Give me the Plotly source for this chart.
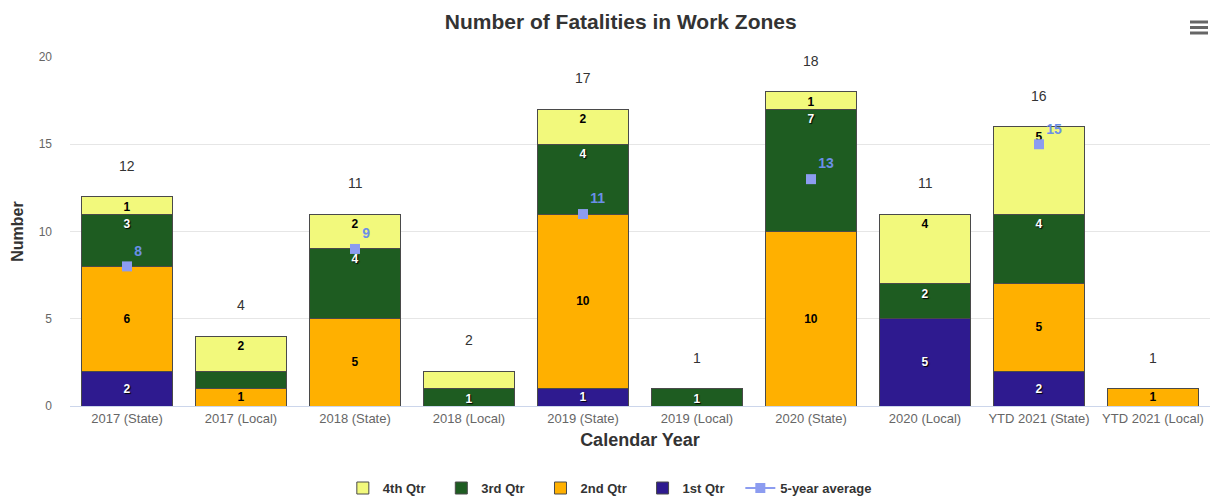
import plotly.graph_objects as go

categories = ['2017 (State)', '2017 (Local)', '2018 (State)', '2018 (Local)', '2019 (State)',
              '2019 (Local)', '2020 (State)', '2020 (Local)', 'YTD 2021 (State)', 'YTD 2021 (Local)']

q1 = [2, 0, 0, 0, 1, 0, 0, 5, 2, 0]
q2 = [6, 1, 5, 0, 10, 0, 10, 0, 5, 1]
q3 = [3, 1, 4, 1, 4, 1, 7, 2, 4, 0]
q4 = [1, 2, 2, 1, 2, 0, 1, 4, 5, 0]
five_year_avg = [8, None, 9, None, 11, None, 13, None, 15, None]

# labels highcharts dropped on these small segments
hidden = {('3rd Qtr', 1), ('4th Qtr', 3)}

# name, values, fill, label colour, label anchor, legend rank
series = [
    ('1st Qtr', q1, '#2e1a8f', 'white', 'middle', 4),
    ('2nd Qtr', q2, '#ffb000', 'black', 'middle', 3),
    ('3rd Qtr', q3, '#1e5c21', 'white', 'end', 2),
    ('4th Qtr', q4, '#f2f97c', 'black', 'end', 1),
]

totals = [a + b + c + d for a, b, c, d in zip(q1, q2, q3, q4)]

FONT = 'Liberation Sans, Arial'
PAD = '\u00a0' * 3  # widen legend entries a bit

fig = go.Figure()
for name, vals, color, txtcolor, anchor, rank in series:
    labels = []
    for i, v in enumerate(vals):
        if v == 0 or (name, i) in hidden:
            labels.append('')
        else:
            labels.append(f'<b>{v}</b>')
    fig.add_trace(go.Bar(
        x=categories, y=vals, name=f'<b>{name}</b>{PAD}',
        marker=dict(color=color, line=dict(color='#4a4a4a', width=1)),
        text=labels, textposition='inside', insidetextanchor=anchor, textangle=0,
        textfont=dict(color=txtcolor, size=12, family=FONT,
                      shadow='1px 1px 1px #000' if txtcolor == 'white' else 'none'),
        constraintext='none', legendrank=rank, hoverinfo='x+y'
    ))

fig.add_trace(go.Scatter(
    x=categories, y=five_year_avg, name='<b>5-year average</b>',
    mode='lines+markers+text', connectgaps=False,
    line=dict(color='#8c9cf0', width=2),
    marker=dict(symbol='square', size=10, color='#8c9cf0'),
    text=[f'<b>{v}</b>' if v is not None else '' for v in five_year_avg],
    textposition='top right',
    textfont=dict(color='#6b8fe6', size=14, family=FONT),
    legendrank=5
))

for cat, tot in zip(categories, totals):
    fig.add_annotation(x=cat, y=tot, text=str(tot), showarrow=False, yshift=31,
                       font=dict(size=14, color='#333333', family=FONT))

# menu icon (top right), offsets in px above the plot top
for up in [35, 29.5, 24]:
    fig.add_shape(type='rect', xref='paper', yref='paper',
                  xsizemode='pixel', ysizemode='pixel', xanchor=1, yanchor=1,
                  x0=-20, x1=-2, y0=up - 1.5, y1=up + 1.5,
                  line=dict(width=0), fillcolor='#666666')

fig.update_layout(
    width=1210, height=497,
    barmode='stack', bargap=0.2,
    plot_bgcolor='white', paper_bgcolor='white',
    font=dict(family=FONT, color='#333333'),
    title=dict(text='<b>Number of Fatalities in Work Zones</b>', x=0.513, y=0.972,
               xanchor='center', yanchor='top', font=dict(size=21, color='#333333')),
    margin=dict(l=70, r=0, t=57, b=91, autoexpand=False),
    xaxis=dict(
        title=dict(text='<b>Calendar Year</b>', font=dict(size=18, color='#333333'), standoff=8),
        tickfont=dict(size=13, color='#666666'), range=[-0.5, len(categories) - 0.5],
        showline=True, linecolor='#ccd6eb', linewidth=1, ticks='', showgrid=False,
    ),
    yaxis=dict(
        title=dict(text='<b>Number</b>', font=dict(size=16, color='#333333'), standoff=11),
        range=[0, 20], dtick=5, tickfont=dict(size=12, color='#666666'),
        gridcolor='#e6e6e6', zeroline=False, ticklabelstandoff=17,
    ),
    legend=dict(orientation='h', xref='container', yref='container',
                x=0.504, xanchor='center', y=0.018, yanchor='middle',
                traceorder='normal', font=dict(size=13, color='#333333'),
                itemwidth=30),
    showlegend=True,
)

fig.write_html('out.html', config={'displayModeBar': False},
               post_script="document.body.style.margin='0';")
